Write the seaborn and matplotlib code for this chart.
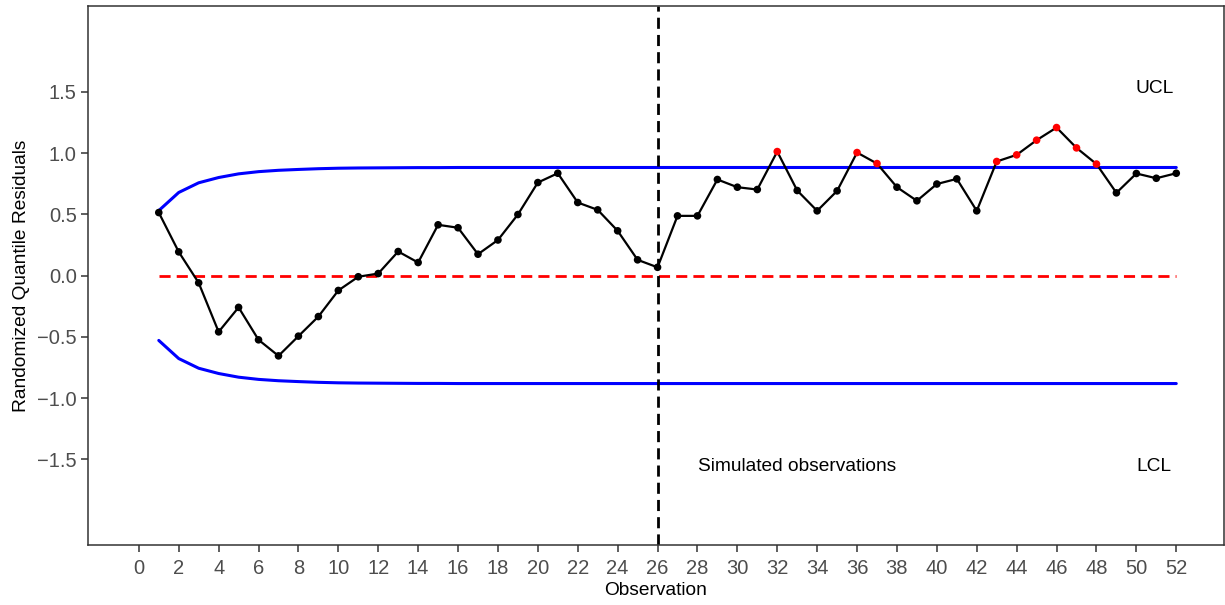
import matplotlib
matplotlib.use("Agg")
import matplotlib.pyplot as plt
import seaborn as sns
import pandas as pd

observation = list(range(1, 53))
residuals = [0.514, 0.193, -0.06, -0.46, -0.26, -0.525, -0.656, -0.495, -0.335, -0.122,
             -0.01, 0.016, 0.196, 0.106, 0.414, 0.39, 0.174, 0.29, 0.498, 0.759,
             0.835, 0.596, 0.536, 0.365, 0.128, 0.067, 0.487, 0.487, 0.784, 0.721,
             0.702, 1.012, 0.694, 0.528, 0.691, 1.004, 0.914, 0.721, 0.61, 0.747,
             0.789, 0.528, 0.931, 0.985, 1.105, 1.208, 1.042, 0.91, 0.675, 0.833,
             0.794, 0.835]
ucl = [0.53, 0.678, 0.757, 0.80, 0.83, 0.848, 0.859, 0.866, 0.872, 0.876,
       0.878, 0.879, 0.880, 0.881, 0.881, 0.882, 0.882, 0.882, 0.882, 0.882,
       0.882, 0.882, 0.882, 0.882, 0.882, 0.882, 0.882, 0.882, 0.882, 0.882,
       0.882, 0.882, 0.882, 0.882, 0.882, 0.882, 0.882, 0.882, 0.882, 0.882,
       0.882, 0.882, 0.882, 0.882, 0.882, 0.882, 0.882, 0.882, 0.882, 0.882,
       0.882, 0.882]
lcl = [-v for v in ucl]
center = [0.0] * 52
out_of_control = [32, 36, 37, 43, 44, 45, 46, 47, 48]
split_obs = 26
x_ticks = list(range(0, 53, 2))
y_ticks = [-1.5, -1.0, -0.5, 0.0, 0.5, 1.0, 1.5]

df = pd.DataFrame({"Observation": observation, "Residual": residuals,
                   "UCL": ucl, "LCL": lcl, "Center": center})
df["status"] = ["out" if o in out_of_control else "in" for o in observation]

sns.set_style("white")
plt.rcParams["font.family"] = ["Liberation Sans", "DejaVu Sans"]

fig = plt.figure(figsize=(12.25, 6.05), dpi=100)
ax = fig.add_axes([0.0718, 0.0992, 0.9275, 0.8908])

sns.lineplot(data=df, x="Observation", y="UCL", color="#0000FF", lw=2.2, ax=ax)
sns.lineplot(data=df, x="Observation", y="LCL", color="#0000FF", lw=2.2, ax=ax)
sns.lineplot(data=df, x="Observation", y="Center", color="#FF0000", lw=2.0,
             dashes=False, ax=ax).lines[-1].set_dashes((4, 2.2))
sns.lineplot(data=df, x="Observation", y="Residual", color="black", lw=1.6, ax=ax)
ax.axvline(split_obs, color="black", lw=2.0, dashes=(4, 2.2))
sns.scatterplot(data=df, x="Observation", y="Residual", hue="status",
                palette={"in": "black", "out": "#FF0000"}, s=30, linewidth=0,
                legend=False, ax=ax, zorder=5)

ax.text(50.9, 1.53, "UCL", ha="center", va="center", fontsize=13.8, color="black")
ax.text(50.9, -1.56, "LCL", ha="center", va="center", fontsize=13.8, color="black")
ax.text(33, -1.56, "Simulated observations", ha="center", va="center", fontsize=13.8, color="black")

ax.set_xlim(-2.55, 54.4)
ax.set_ylim(-2.2, 2.2)
ax.set_xticks(x_ticks)
ax.set_yticks(y_ticks)
ax.set_yticklabels([f"{v:.1f}".replace("-", "\u2212") for v in y_ticks])
ax.tick_params(axis="both", colors="#333333", labelcolor="#4D4D4D", labelsize=14.5,
               length=5, width=1.1, direction="out", bottom=True, left=True, pad=3)
ax.tick_params(axis="x", pad=5)
ax.set_xlabel("Observation", fontsize=13.8, color="black", labelpad=3)
ax.set_ylabel("Randomized Quantile Residuals", fontsize=13.8, color="black", labelpad=5)
for sp in ax.spines.values():
    sp.set_color("#333333")
    sp.set_linewidth(1.1)
ax.grid(False)

fig.savefig("out.png", dpi=100)
